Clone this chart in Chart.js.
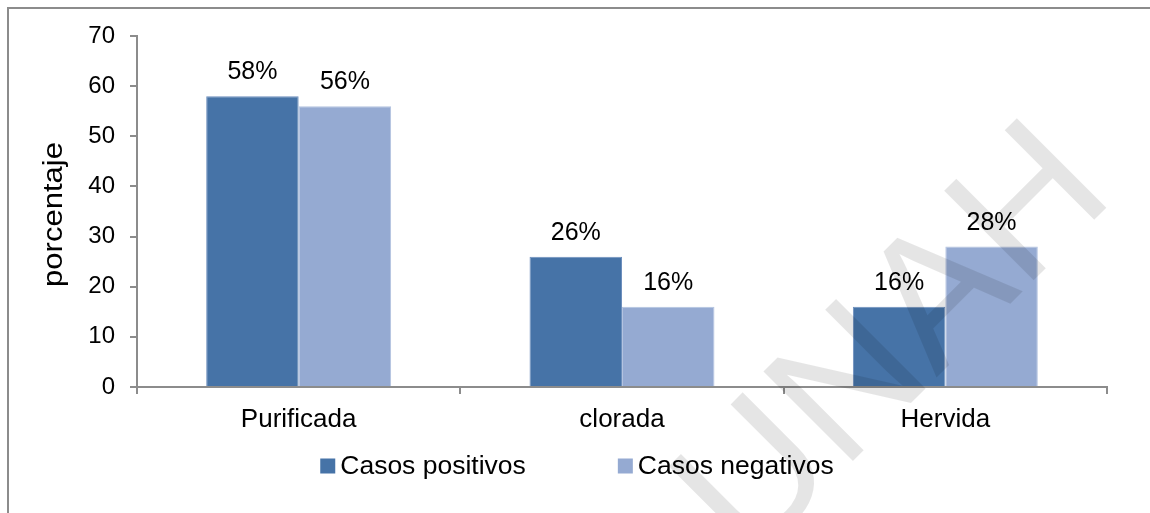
<!DOCTYPE html>
<html>
<head>
<meta charset="utf-8">
<style>
  html, body { margin: 0; padding: 0; background: #fff; }
  #contenedor { width: 1150px; height: 513px; }
</style>
<script src="https://cdn.jsdelivr.net/npm/chart.js@4.4.0/dist/chart.umd.min.js"></script>
</head>
<body>
<div id="contenedor"><canvas id="graficoAgua" width="1150" height="513"></canvas></div>
<script>
// Datos
const categorias = ['Purificada', 'clorada', 'Hervida'];
const casosPositivos = [58, 26, 16];
const casosNegativos = [56, 16, 28];
const ejeYMin = 0;
const ejeYMax = 70;
const ejeYPaso = 10;
const tituloY = 'porcentaje';

const fuente = "'Liberation Sans', Arial, sans-serif";
Chart.defaults.font.family = fuente;
Chart.defaults.color = '#000';

// Marco gris del recuadro (borde izquierdo y superior)
const marco = {
    id: 'marco',
    beforeDraw(chart) {
        const ctx = chart.ctx;
        ctx.save();
        ctx.fillStyle = '#fff';
        ctx.fillRect(0, 0, chart.width, chart.height);
        ctx.strokeStyle = '#8c8c8c';
        ctx.lineWidth = 2;
        ctx.beginPath();
        ctx.moveTo(8, chart.height);
        ctx.lineTo(8, 8);
        ctx.lineTo(chart.width, 8);
        ctx.stroke();
        ctx.restore();
    }
};

// Título del eje Y (un poco alargado, como en el original)
const tituloEje = {
    id: 'tituloEje',
    afterDraw(chart) {
        const ctx = chart.ctx;
        const area = chart.chartArea;
        ctx.save();
        ctx.translate(62, (area.top + area.bottom) / 2 + 3);
        ctx.rotate(-Math.PI / 2);
        ctx.scale(1.15, 1);
        ctx.font = '27px ' + fuente;
        ctx.fillStyle = '#000';
        ctx.textAlign = 'center';
        ctx.textBaseline = 'alphabetic';
        ctx.fillText(tituloY, 0, 0);
        ctx.restore();
    }
};

// Etiquetas de porcentaje encima de cada barra
const etiquetas = {
    id: 'etiquetas',
    afterDatasetsDraw(chart) {
        const ctx = chart.ctx;
        ctx.save();
        ctx.font = '25px ' + fuente;
        ctx.fillStyle = '#000';
        ctx.textAlign = 'center';
        ctx.textBaseline = 'alphabetic';
        chart.data.datasets.forEach((ds, i) => {
            chart.getDatasetMeta(i).data.forEach((barra, j) => {
                ctx.fillText(ds.data[j] + '%', barra.x, barra.y - 17);
            });
        });
        ctx.restore();
    }
};

// Leyenda propia (cuadro pequeño pegado al texto)
const leyenda = {
    id: 'leyenda',
    afterDraw(chart) {
        const ctx = chart.ctx;
        const caja = 15, sep = 5, hueco = 92, yCentro = 466, xCentro = 577;
        ctx.save();
        ctx.font = '26.5px ' + fuente;
        const items = chart.data.datasets.map(ds => ({
            texto: ds.label,
            color: ds.backgroundColor,
            ancho: caja + sep + ctx.measureText(ds.label).width
        }));
        const total = items.reduce((s, it) => s + it.ancho, 0) + hueco * (items.length - 1);
        let x = xCentro - total / 2;
        ctx.textBaseline = 'middle';
        items.forEach(it => {
            ctx.fillStyle = it.color;
            ctx.fillRect(x, yCentro - caja / 2, caja, caja);
            ctx.fillStyle = '#000';
            ctx.fillText(it.texto, x + caja + sep, yCentro + 1);
            x += it.ancho + hueco;
        });
        ctx.restore();
    }
};

// Marca de agua "UNAH"
const marcaAgua = {
    id: 'marcaAgua',
    afterDraw(chart) {
        const ctx = chart.ctx;
        ctx.save();
        ctx.translate(1117, 197);
        ctx.rotate(-Math.PI / 4);
        ctx.font = '184px ' + fuente;
        ctx.textAlign = 'right';
        ctx.textBaseline = 'alphabetic';
        ctx.fillStyle = 'rgba(0, 0, 0, 0.1)';
        ctx.fillText('UNAH', 0, 0);
        ctx.restore();
    }
};

const canvas = document.getElementById('graficoAgua');
new Chart(canvas.getContext('2d'), {
    type: 'bar',
    data: {
        labels: categorias,
        datasets: [{
            label: 'Casos positivos',
            data: casosPositivos,
            backgroundColor: '#4673a7',
            borderColor: '#6d8fbd',
            borderWidth: 1,
            categoryPercentage: 0.572,
            barPercentage: 1
        }, {
            label: 'Casos negativos',
            data: casosNegativos,
            backgroundColor: '#95aad2',
            borderColor: '#b3c3e0',
            borderWidth: 1,
            categoryPercentage: 0.572,
            barPercentage: 1
        }]
    },
    options: {
        responsive: false,
        animation: false,
        layout: { padding: { top: 36, right: 43, left: 0, bottom: 0 } },
        plugins: {
            legend: { display: false },
            tooltip: { enabled: false }
        },
        scales: {
            x: {
                grid: { drawOnChartArea: false, tickLength: 7, color: '#8c8c8c', lineWidth: 2 },
                border: { color: '#8c8c8c', width: 2 },
                ticks: { font: { size: 26 }, color: '#000', padding: 10 },
                afterFit(scale) { scale.height = 126; }
            },
            y: {
                min: ejeYMin,
                max: ejeYMax,
                ticks: { stepSize: ejeYPaso, font: { size: 24 }, color: '#000', padding: 15 },
                grid: { drawOnChartArea: false, tickLength: 7, color: '#8c8c8c', lineWidth: 2 },
                border: { color: '#8c8c8c', width: 2 },
                afterFit(scale) { scale.width = 137; }
            }
        }
    },
    plugins: [marco, tituloEje, etiquetas, leyenda, marcaAgua]
});
</script>
</body>
</html>
